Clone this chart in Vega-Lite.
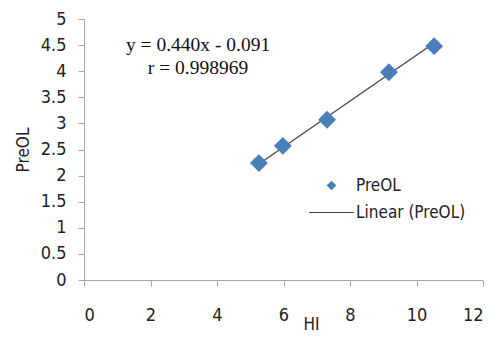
{
  "$schema": "https://vega.github.io/schema/vega-lite/v6.json",
  "width": 399,
  "height": 261,
  "autosize": {"type": "none"},
  "padding": {"left": 84, "top": 19, "right": 16, "bottom": 57},
  "background": "white",
  "config": {
    "view": {"stroke": null},
    "font": "DejaVu Sans Condensed",
    "axis": {
      "grid": false,
      "domainColor": "#a6a6a6",
      "tickColor": "#a6a6a6",
      "tickSize": 6,
      "labelOverlap": false,
      "labelFont": "DejaVu Sans Condensed",
      "labelFontSize": 18,
      "labelColor": "#222222",
      "titleFont": "DejaVu Sans Condensed",
      "titleFontSize": 17,
      "titleFontWeight": "normal",
      "titleColor": "#222222"
    }
  },
  "datasets": {
    "pts": [
      {"HI": 5.26, "PreOL": 2.24, "series": "PreOL"},
      {"HI": 5.98, "PreOL": 2.57, "series": "PreOL"},
      {"HI": 7.31, "PreOL": 3.07, "series": "PreOL"},
      {"HI": 9.17, "PreOL": 3.98, "series": "PreOL"},
      {"HI": 10.53, "PreOL": 4.48, "series": "PreOL"}
    ],
    "fit": [
      {"HI": 5.26, "PreOL": 2.22, "series": "Linear (PreOL)"},
      {"HI": 10.53, "PreOL": 4.54, "series": "Linear (PreOL)"}
    ],
    "notes": [
      {"HI": 3.43, "PreOL": 4.5, "label": "y = 0.440x - 0.091"},
      {"HI": 3.43, "PreOL": 4.06, "label": "r = 0.998969"}
    ]
  },
  "encoding": {
    "x": {
      "field": "HI", "type": "quantitative",
      "scale": {"domain": [0, 12], "nice": false},
      "axis": {"values": [0, 2, 4, 6, 8, 10, 12], "format": "~g", "labelOverlap": false, "labelPadding": 20, "title": "HI", "titleX": 227, "titleY": 36}
    },
    "y": {
      "field": "PreOL", "type": "quantitative",
      "scale": {"domain": [0, 5], "nice": false},
      "axis": {"values": [0, 0.5, 1, 1.5, 2, 2.5, 3, 3.5, 4, 4.5, 5], "format": "~g", "labelOverlap": false, "labelPadding": 12, "title": "PreOL", "titlePadding": 8}
    }
  },
  "layer": [
    {
      "data": {"name": "fit"},
      "mark": {"type": "line", "strokeWidth": 1.2},
      "encoding": {
        "color": {
          "field": "series", "type": "nominal",
          "scale": {"domain": ["PreOL", "Linear (PreOL)"], "range": ["#4a7ebb", "#404040"]},
          "legend": {
            "title": null,
            "orient": "none",
            "legendX": 239,
            "legendY": 158,
            "labelFont": "DejaVu Sans Condensed",
            "labelFontSize": 17,
            "labelColor": "#222222",
            "rowPadding": 9,
            "labelOffset": 16,
            "encode": {
              "symbols": {
                "update": {
                  "shape": {"signal": "datum.value === 'PreOL' ? 'diamond' : 'M-5,0H5'"},
                  "size": {"signal": "datum.value === 'PreOL' ? 64 : 80"},
                  "fill": {"signal": "datum.value === 'PreOL' ? '#4a7ebb' : 'transparent'"},
                  "stroke": {"signal": "datum.value === 'PreOL' ? 'transparent' : '#404040'"},
                  "strokeWidth": {"value": 1.2}
                }
              }
            }
          }
        }
      }
    },
    {
      "data": {"name": "pts"},
      "mark": {"type": "point", "shape": "diamond", "filled": true, "size": 320, "opacity": 1},
      "encoding": {
        "color": {"field": "series", "type": "nominal"}
      }
    },
    {
      "data": {"name": "notes"},
      "mark": {"type": "text", "font": "Liberation Serif", "fontSize": 19.5, "color": "#111111", "align": "center", "baseline": "middle"},
      "encoding": {
        "text": {"field": "label"}
      }
    }
  ]
}
